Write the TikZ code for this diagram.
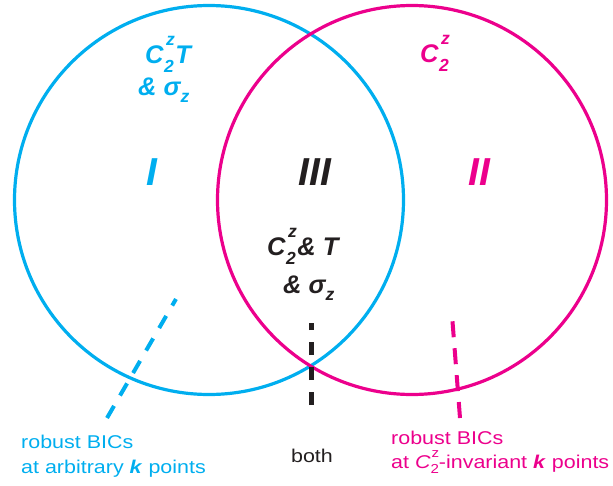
\documentclass[tikz,border=0pt]{standalone}
\usepackage{fontspec}
\setmainfont{Liberation Sans}
\newfontfamily\bodyfont[FakeStretch=1.16]{Liberation Sans}
\definecolor{cblue}{RGB}{0,174,239}
\definecolor{cmag}{RGB}{236,0,140}
\definecolor{cblk}{RGB}{35,31,32}
\newcommand\scr{\fontsize{17.5}{17.5}\selectfont}
\newcommand\CZ{C\kern0.5pt\rlap{\raisebox{0.68em}{\kern2pt\scr z}}\raisebox{-0.38em}{\scr 2}\kern1.5pt}
\newcommand\SZ{σ\raisebox{-0.3em}{\scr z}}
\newcommand\CZsmall{{\itshape C}\rlap{\raisebox{0.55em}{\kern1pt\fontsize{13}{13}\selectfont z}}\raisebox{-0.3em}{\fontsize{13}{13}\selectfont 2}}
\tikzset{
  ring/.style={circle, line width=3.2pt, minimum size=389pt, inner sep=0pt},
  biglab/.style={font=\fontsize{25.5}{25.5}\selectfont\bfseries\itshape, inner sep=0pt, anchor=base west},
  region/.style={font=\fontsize{39}{39}\selectfont\bfseries\itshape, inner sep=0pt, anchor=base},
  note/.style={font=\bodyfont\fontsize{18.5}{18.5}\selectfont, inner sep=0pt, anchor=base west},
  dashline/.style={line width=4pt, dash pattern=on 14pt off 12pt},
}
\begin{document}
\begin{tikzpicture}[x=1pt,y=-1pt]
\useasboundingbox (0,0) rectangle (613,485);
\node[ring, draw=cblue] (L) at (209,200) {};
\node[ring, draw=cmag] (R) at (412,200) {};

% region labels
\node[region, text=cblue] (rI) at (152,185) {I};
\node[region, text=cblk] (rIII) at (315,185) {III};
\node[region, text=cmag] (rII) at (479,185) {II};

% symmetry labels
\node[biglab, text=cblue] (tl1) at (145,63) {\CZ T};
\node[biglab, text=cblue] (tl2) at (138,95) {\& \SZ};
\node[biglab, text=cmag] (tr1) at (420,62) {\CZ};
\node[biglab, text=cblk] (c1) at (267,255) {\CZ\& T};
\node[biglab, text=cblk] (c2) at (283,293) {\& \SZ};

% notes
\node[note, text=cblue] (nl1) at (21,448) {robust BICs};
\node[note, text=cblue] (nl2) at (21,473) {at arbitrary \textbf{\textit{k}} points};
\node[note, text=cblk, anchor=base] (nb) at (312,462) {both};
\node[note, text=cmag] (nr1) at (391,444) {robust BICs};
\node[note, text=cmag] (nr2) at (391,468) {at \CZsmall-invariant \textbf{\textit{k}} points};

% pointer lines
\coordinate (bA) at (107,418);
\coordinate (bB) at (176,299);
\coordinate (kA) at (311,405);
\coordinate (kB) at (311,323);
\coordinate (mA) at (460,418);
\coordinate (mB) at (452,315);
\draw[dashline, draw=cblue] (bA) -- (bB);
\draw[dashline, draw=cmag, dash pattern=on 16pt off 11pt] (mA) -- (mB);
\draw[dashline, draw=cblk, line width=5pt, dash pattern=on 13pt off 12pt] (kA) -- (kB);
\end{tikzpicture}
\end{document}
